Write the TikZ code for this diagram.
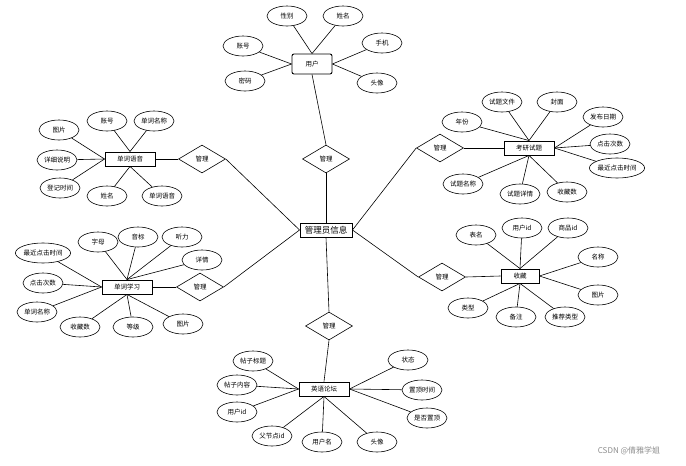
\documentclass[tikz,border=0pt]{standalone}
\usepackage{fontspec}
\setmainfont{Noto Sans CJK SC}
\usetikzlibrary{shapes.geometric}
\begin{document}
\begin{tikzpicture}[x=1pt,y=-1pt,line width=0.6pt]
	\tikzstyle{every node}=[font=\fontsize{6.5}{7.5}\selectfont];
	\tikzstyle{attr}=[draw,ellipse,minimum width=40pt,minimum height=20pt,inner xsep=0pt,inner ysep=1pt];
	\tikzstyle{ent}=[draw,line width=0.9pt,rectangle,minimum width=50pt,minimum height=14pt,inner sep=1pt];
	\tikzstyle{rel}=[draw,diamond,minimum width=47pt,minimum height=28pt,inner sep=0pt];
	\useasboundingbox (0,0) rectangle (686,466);

	% center
	\node at (326, 230) (admin) [ent,minimum width=52pt,font=\fontsize{8.5}{10}\selectfont] {管理员信息};

	% user
	\node at (312, 64) (user) [ent,rounded corners=2pt,minimum width=40pt,minimum height=20pt] {用户};
	\node at (287, 16) (u1) [attr] {性别};
	\node at (343, 16) (u2) [attr] {姓名};
	\node at (243, 46) (u3) [attr] {账号};
	\node at (382, 43) (u4) [attr] {手机};
	\node at (245, 81) (u5) [attr] {密码};
	\node at (377, 83) (u6) [attr] {头像};
	\node at (326, 159) (r1) [rel] {管理};

	% word voice
	\node at (130, 159) (voice) [ent] {单词语音};
	\node at (59, 130)  (v1) [attr] {图片};
	\node at (107, 121) (v2) [attr] {账号};
	\node at (154, 121) (v3) [attr] {单词名称};
	\node at (57, 160)  (v4) [attr] {详细说明};
	\node at (60, 188)  (v5) [attr] {登记时间};
	\node at (107, 196) (v6) [attr] {姓名};
	\node at (162, 196) (v7) [attr] {单词语音};
	\node at (202, 159) (r2) [rel] {管理};

	% exam questions
	\node at (529, 148) (exam) [ent] {考研试题};
	\node at (462, 122) (e1) [attr] {年份};
	\node at (502, 102) (e2) [attr] {试题文件};
	\node at (557, 102) (e3) [attr] {封面};
	\node at (603, 117) (e4) [attr] {发布日期};
	\node at (610, 144) (e5) [attr] {点击次数};
	\node at (617, 168) (e6) [attr] {最近点击时间};
	\node at (463, 184) (e7) [attr] {试题名称};
	\node at (520, 194) (e8) [attr] {试题详情};
	\node at (567, 192) (e9) [attr] {收藏数};
	\node at (440, 148) (r3) [rel] {管理};

	% word study
	\node at (127, 287) (study) [ent] {单词学习};
	\node at (43, 253)  (s1) [attr] {最近点击时间};
	\node at (98, 242)  (s2) [attr] {字母};
	\node at (138, 237) (s3) [attr] {音标};
	\node at (182, 237) (s4) [attr] {听力};
	\node at (202, 260) (s5) [attr] {详情};
	\node at (43, 283)  (s6) [attr] {点击次数};
	\node at (37, 312)  (s7) [attr] {单词名称};
	\node at (80, 327)  (s8) [attr] {收藏数};
	\node at (133, 327) (s9) [attr] {等级};
	\node at (183, 324) (s10) [attr] {图片};
	\node at (200, 287) (r4) [rel] {管理};

	% collection
	\node at (520, 276) (fav) [ent,minimum width=38pt] {收藏};
	\node at (476, 235) (f1) [attr] {表名};
	\node at (522, 228) (f2) [attr] {用户id};
	\node at (568, 228) (f3) [attr] {商品id};
	\node at (598, 257) (f4) [attr] {名称};
	\node at (598, 295) (f5) [attr] {图片};
	\node at (468, 308) (f6) [attr] {类型};
	\node at (516, 317) (f7) [attr] {备注};
	\node at (565, 317) (f8) [attr] {推荐类型};
	\node at (442, 277) (r5) [rel] {管理};

	% forum
	\node at (324, 389) (forum) [ent] {英语论坛};
	\node at (253, 361) (p1) [attr] {帖子标题};
	\node at (237, 385) (p2) [attr] {帖子内容};
	\node at (237, 412) (p3) [attr] {用户id};
	\node at (272, 436) (p4) [attr] {父节点id};
	\node at (322, 442) (p5) [attr] {用户名};
	\node at (377, 442) (p6) [attr] {头像};
	\node at (408, 360) (p7) [attr] {状态};
	\node at (422, 390) (p8) [attr] {置顶时间};
	\node at (427, 418) (p9) [attr] {是否置顶};
	\node at (329, 326) (r6) [rel] {管理};

	\node at (629, 451) (mark) [text=black!45,font=\fontsize{8}{9}\selectfont] {CSDN @倩雅学姐};

	% user links
	\draw (u1) to (user.north);
	\draw (u2) to (user.north);
	\draw (u3) to (user.west);
	\draw (u5) to (user.west);
	\draw (u4) to (user.east);
	\draw (u6) to (user.east);
	\draw (user.south) to (r1.north);
	\draw (r1.south) to (admin.north);

	% word voice links
	\draw (v1) to (voice.west);
	\draw (v4) to (voice.west);
	\draw (v5) to (voice.west);
	\draw (v2) to (voice.north);
	\draw (v3) to (voice.north);
	\draw (v6) to (voice.south);
	\draw (v7) to (voice.south);
	\draw (voice.east) to (r2.west);
	\draw (r2.east) to (admin.west);

	% exam links
	\draw (e1) to (exam.north);
	\draw (e2) to (exam.north);
	\draw (e3) to (exam.north);
	\draw (e4) to (exam.east);
	\draw (e5) to (exam.east);
	\draw (e6) to (exam.east);
	\draw (e7) to (exam.south);
	\draw (e8) to (exam.south);
	\draw (e9) to (exam.south);
	\draw (exam.west) to (r3.east);
	\draw (r3.west) to (admin.east);

	% word study links
	\draw (s1) to (study.west);
	\draw (s6) to (study.west);
	\draw (s7) to (study.west);
	\draw (s2) to (study.north);
	\draw (s3) to (study.north);
	\draw (s4) to (study.north);
	\draw (s5) to (study.north);
	\draw (s8) to (study.south);
	\draw (s9) to (study.south);
	\draw (s10) to (study.south);
	\draw (study.east) to (r4.west);
	\draw (r4.east) to (admin.west);

	% collection links
	\draw (f1) to (fav.north);
	\draw (f2) to (fav.north);
	\draw (f3) to (fav.north);
	\draw (f4) to (fav.east);
	\draw (f5) to (fav.east);
	\draw (f6) to (fav.south);
	\draw (f7) to (fav.south);
	\draw (f8) to (fav.south);
	\draw (fav.west) to (r5.east);
	\draw (r5.west) to (admin.east);

	% forum links
	\draw (p1) to (forum.west);
	\draw (p2) to (forum.west);
	\draw (p3) to (forum.west);
	\draw (p4) to (forum.south);
	\draw (p5) to (forum.south);
	\draw (p6) to (forum.south);
	\draw (p7) to (forum.east);
	\draw (p8) to (forum.east);
	\draw (p9) to (forum.east);
	\draw (forum.north) to (r6.south);
	\draw (r6.north) to (admin.south);
\end{tikzpicture}
\end{document}
